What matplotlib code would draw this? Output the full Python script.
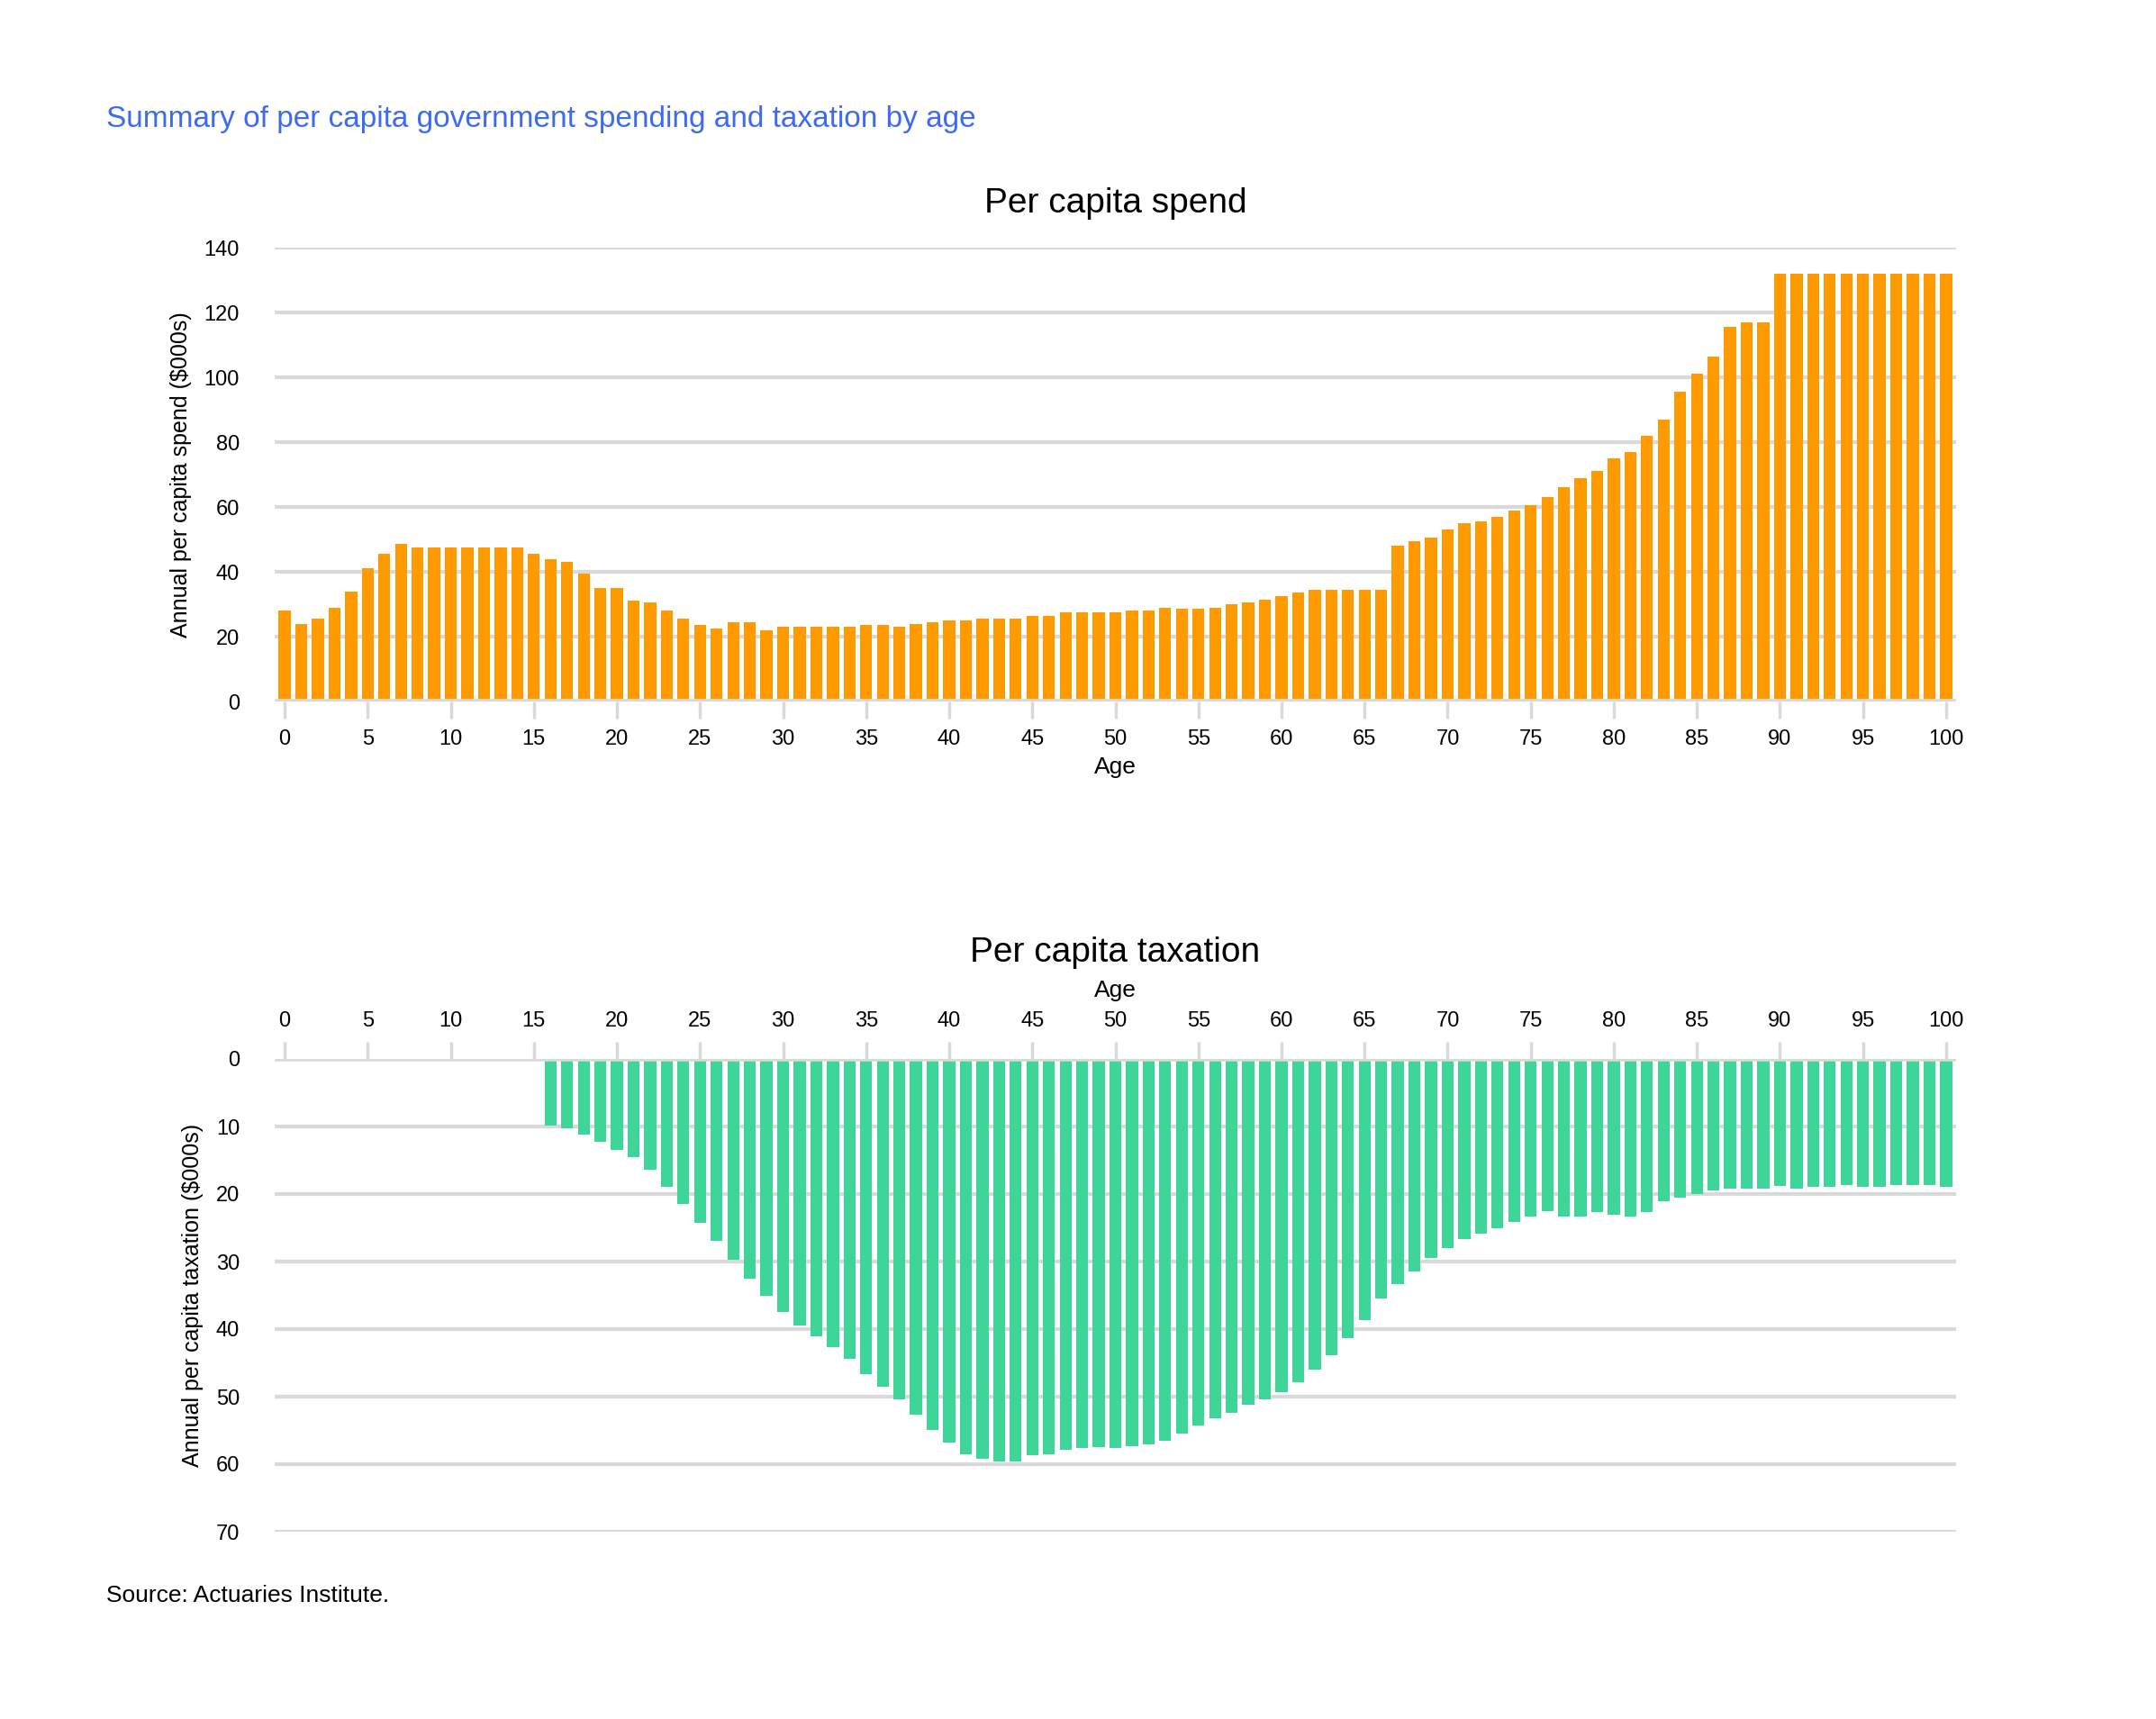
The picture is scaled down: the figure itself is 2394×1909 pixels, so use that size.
import numpy as np
import matplotlib
matplotlib.use("Agg")
import matplotlib.pyplot as plt

ages = list(range(0, 101))

spend = [28, 24, 25.5, 29, 34, 41, 45.5, 48.5, 47.5, 47.5,
         47.5, 47.5, 47.5, 47.5, 47.5, 45.5, 44, 43, 39.5, 35,
         35, 31, 30.5, 28, 25.5, 23.5, 22.5, 24.5, 24.5, 22,
         23, 23, 23, 23, 23, 23.5, 23.5, 23, 24, 24.5,
         25, 25, 25.5, 25.5, 25.5, 26.5, 26.5, 27.5, 27.5, 27.5,
         27.5, 28, 28, 29, 28.5, 28.5, 29, 30, 30.5, 31.5,
         32.5, 33.5, 34.5, 34.5, 34.5, 34.5, 34.5, 48, 49.5, 50.5,
         53, 55, 55.5, 57, 59, 60.5, 63, 66, 69, 71,
         75, 77, 82, 87, 95.5, 101, 106.5, 115.5, 117, 117,
         132, 132, 132, 132, 132, 132, 132, 132, 132, 132, 132]

tax_ages = list(range(16, 101))
tax = [9.8, 10.3, 11.2, 12.3, 13.4, 14.5, 16.4, 18.9, 21.4, 24.2,
       26.9, 29.7, 32.5, 35.0, 37.5, 39.4, 41.1, 42.7, 44.4, 46.6,
       48.5, 50.4, 52.6, 54.9, 56.8, 58.5, 59.2, 59.6, 59.6, 58.7,
       58.5, 57.9, 57.6, 57.4,
       57.6, 57.3, 57.1, 56.5, 55.4, 54.3, 53.2, 52.4, 51.2, 50.4,
       49.3, 47.9, 46.0, 43.8, 41.3, 38.6, 35.5, 33.3, 31.4, 29.4,
       28.0, 26.6, 25.8, 25.0, 24.1, 23.3, 22.5, 23.3, 23.3, 22.7,
       23.0, 23.3, 22.7, 21.1, 20.5, 20.0, 19.4, 19.2, 19.2, 19.2,
       18.8, 19.2, 18.9, 18.9, 18.6, 18.9, 18.9, 18.6, 18.6, 18.6, 18.9]

age_ticks = list(range(0, 101, 5))

ORANGE = "#FF9B00"
GREEN = "#3DD598"
GRID = "#D9D9D9"
BLUE = "#3D6AF2"

plt.rcParams["font.family"] = ["Liberation Sans", "DejaVu Sans"]

fig = plt.figure(figsize=(23.94, 19.09), dpi=100)
W, H = 2394, 1909

def style(ax):
    for s in ax.spines.values():
        s.set_visible(False)
    ax.set_xlim(-0.6, 100.6)
    ax.set_xticks(age_ticks)
    ax.tick_params(axis="x", length=14, width=2.5, color=GRID, labelsize=17, pad=8)
    ax.tick_params(axis="y", length=0, labelsize=17, pad=28)
    ax.grid(axis="y", color=GRID, linewidth=3)
    ax.set_axisbelow(True)

# top chart
ax1 = fig.add_axes([305 / W, 1 - 779 / H, 1867 / W, 504 / H])
ax1.bar(ages, spend, width=0.72, color=ORANGE, zorder=2)
ax1.set_ylim(0, 140)
ax1.set_yticks(range(0, 141, 20))
style(ax1)
ax1.axhline(0, color=GRID, linewidth=4, zorder=3)
ax1.set_xlabel("Age", fontsize=19, labelpad=6)
ax1.set_ylabel("Annual per capita spend ($000s)", fontsize=18, labelpad=10)
ax1.set_title("Per capita spend", fontsize=28, pad=28)

# bottom chart
ax2 = fig.add_axes([305 / W, 1 - 1701 / H, 1867 / W, 525 / H])
ax2.bar(tax_ages, tax, width=0.72, color=GREEN, zorder=2)
ax2.set_ylim(70, 0)
ax2.set_yticks(range(0, 71, 10))
style(ax2)
ax2.xaxis.tick_top()
ax2.xaxis.set_label_position("top")
ax2.axhline(0, color=GRID, linewidth=4, zorder=3)
ax2.set_xlabel("Age", fontsize=19, labelpad=12)
ax2.set_ylabel("Annual per capita taxation ($000s)", fontsize=18, labelpad=10)
ax2.set_title("Per capita taxation", fontsize=28, pad=78)

fig.text(118 / W, 1 - 133 / H, "Summary of per capita government spending and taxation by age",
         fontsize=24, color=BLUE, va="center")
fig.text(118 / W, 1 - 1772 / H, "Source: Actuaries Institute.", fontsize=19, va="center")

fig.savefig("out.png", dpi=100)
